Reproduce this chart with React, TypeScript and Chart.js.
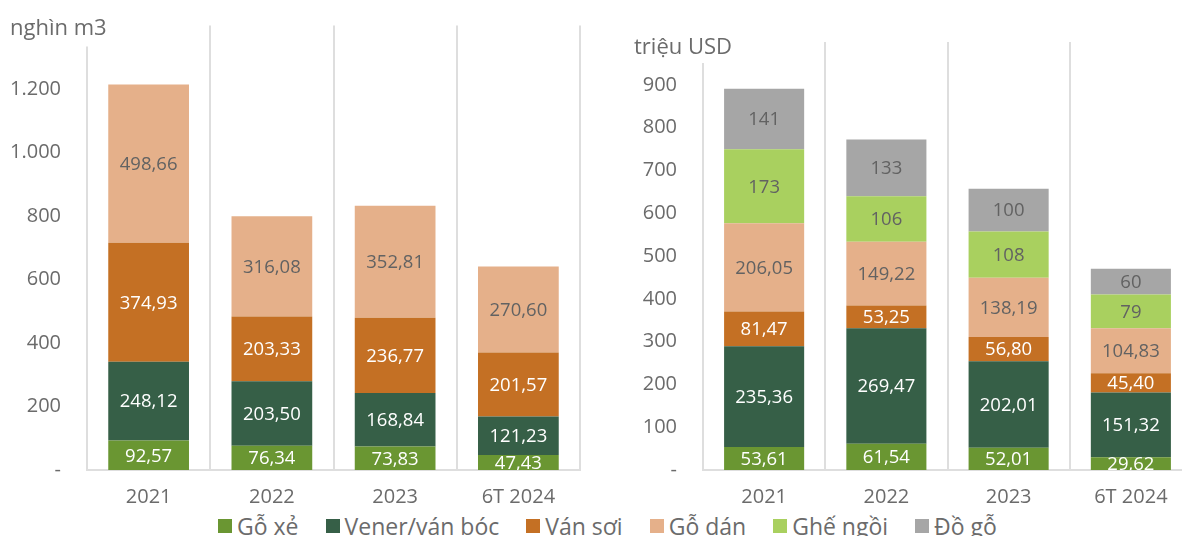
import React, { useEffect, useRef } from "react";
import { Chart, registerables } from "chart.js";

Chart.register(...registerables);

const FONT = "'Open Sans', 'Noto Sans', sans-serif";
const TEXT = "#6b6b6b";
const GRID = "#dedede";

const categories = ["2021", "2022", "2023", "6T 2024"];
const seriesNames = ["Gỗ xẻ", "Vener/ván bóc", "Ván sợi", "Gỗ dán", "Ghế ngồi", "Đồ gỗ"];
const seriesColors = ["#6a9632", "#365f47", "#c47024", "#e5b08a", "#a9d05f", "#a6a6a6"];
const labelColors = ["#ffffff", "#ffffff", "#ffffff", "#626262", "#626262", "#626262"];

// Left chart: volume (nghìn m3)
const volGoXe = [92.57, 76.34, 73.83, 47.43];
const volVener = [248.12, 203.5, 168.84, 121.23];
const volVanSoi = [374.93, 203.33, 236.77, 201.57];
const volGoDan = [498.66, 316.08, 352.81, 270.6];
const volTicksMax = 1400;
const volTickStep = 200;

// Right chart: value (triệu USD)
const valGoXe = [53.61, 61.54, 52.01, 29.62];
const valVener = [235.36, 269.47, 202.01, 151.32];
const valVanSoi = [81.47, 53.25, 56.8, 45.4];
const valGoDan = [206.05, 149.22, 138.19, 104.83];
const valGheNgoi = [173, 106, 108, 79];
const valDoGo = [141, 133, 100, 60];
const valTicksMax = 1000;
const valTickStep = 100;

const fmtValue = (v: number) =>
  Number.isInteger(v) ? String(v) : v.toFixed(2).replace(".", ",");

const fmtTick = (v: number, max: number) => {
  if (v === 0) return "-";
  if (v >= max) return "";
  return String(v).replace(/\B(?=(\d{3})+(?!\d))/g, ".");
};

const valueLabels = {
  id: "valueLabels",
  afterDatasetsDraw(chart: any) {
    const { ctx, chartArea } = chart;
    ctx.save();
    ctx.beginPath();
    ctx.rect(chartArea.left, chartArea.top, chartArea.right - chartArea.left, chartArea.bottom - chartArea.top);
    ctx.clip();
    ctx.font = `18.5px ${FONT}`;
    ctx.textAlign = "center";
    ctx.textBaseline = "middle";
    chart.data.datasets.forEach((ds: any, i: number) => {
      const meta = chart.getDatasetMeta(i);
      meta.data.forEach((bar: any, j: number) => {
        const v = ds.data[j];
        const p = bar.getProps(["x", "y", "base"], true);
        ctx.fillStyle = ds.labelColor;
        ctx.fillText(fmtValue(v), p.x, (p.y + p.base) / 2 + 1);
      });
    });
    ctx.restore();
  },
};

const axisLine = {
  id: "axisLine",
  beforeDatasetsDraw(chart: any) {
    const { ctx, chartArea } = chart;
    ctx.save();
    ctx.strokeStyle = GRID;
    ctx.lineWidth = 2;
    ctx.beginPath();
    ctx.moveTo(chartArea.left, chartArea.top + 21);
    ctx.lineTo(chartArea.left, chartArea.bottom);
    ctx.stroke();
    ctx.restore();
  },
};

function makeChart(
  canvas: HTMLCanvasElement,
  series: number[][],
  max: number,
  step: number,
  yWidth: number,
  padTop: number,
  padRight: number
) {
  return new Chart(canvas, {
    type: "bar",
    data: {
      labels: categories,
      datasets: series.map((d, i) => ({
        label: seriesNames[i],
        data: d,
        backgroundColor: seriesColors[i],
        borderWidth: 0,
        labelColor: labelColors[i],
        categoryPercentage: 1,
        barPercentage: 0.655,
      })) as any,
    },
    options: {
      responsive: false,
      animation: false,
      layout: { padding: { top: padTop, right: padRight, left: 0, bottom: 0 } },
      plugins: { legend: { display: false }, tooltip: { enabled: false }, title: { display: false } },
      scales: {
        x: {
          stacked: true,
          grid: {
            offset: true,
            drawTicks: false,
            lineWidth: 2,
            color: (c: any) => (c.index === 0 ? "rgba(0,0,0,0)" : GRID),
          },
          border: { display: true, color: GRID, width: 2 },
          ticks: { color: TEXT, font: { family: FONT, size: 20 }, padding: 15 },
          afterFit: (s: any) => {
            s.height = 40;
          },
        },
        y: {
          stacked: true,
          min: 0,
          max: max,
          grid: { display: false, drawTicks: false },
          border: { display: false },
          ticks: {
            stepSize: step,
            color: TEXT,
            font: { family: FONT, size: 20 },
            padding: 26,
            callback: (v: any) => fmtTick(Number(v), max),
          },
          afterFit: (s: any) => {
            s.width = yWidth;
          },
        },
      },
    },
    plugins: [axisLine, valueLabels],
  } as any);
}

export default function App() {
  const leftRef = useRef<HTMLCanvasElement>(null);
  const rightRef = useRef<HTMLCanvasElement>(null);

  useEffect(() => {
    const left = makeChart(
      leftRef.current!,
      [volGoXe, volVener, volVanSoi, volGoDan],
      volTicksMax,
      volTickStep,
      87,
      40.5,
      20
    );
    const right = makeChart(
      rightRef.current!,
      [valGoXe, valVener, valVanSoi, valGoDan, valGheNgoi, valDoGo],
      valTicksMax,
      valTickStep,
      103,
      42,
      0
    );
    return () => {
      left.destroy();
      right.destroy();
    };
  }, []);

  const legendItem = (name: string, color: string, last: boolean) => (
    <div key={name} style={{ display: "flex", alignItems: "center", marginRight: last ? 0 : 27 }}>
      <span style={{ display: "inline-block", width: 14, height: 14, background: color, marginRight: 5 }} />
      <span>{name}</span>
    </div>
  );

  return (
    <div
      style={{
        position: "fixed",
        left: 0,
        top: 0,
        width: 1182,
        height: 536,
        overflow: "hidden",
        background: "#fff",
        fontFamily: FONT,
        color: TEXT,
      }}
    >
      <div style={{ position: "absolute", left: 0, top: -15, width: 600, height: 525 }}>
        <canvas ref={leftRef} width={600} height={525} style={{ display: "block" }} />
      </div>
      <div style={{ position: "absolute", left: 600, top: 0, width: 592, height: 510 }}>
        <canvas ref={rightRef} width={592} height={510} style={{ display: "block" }} />
      </div>
      <div style={{ position: "absolute", left: 10, top: 13, fontSize: 22, lineHeight: "26px" }}>nghìn m3</div>
      <div style={{ position: "absolute", left: 634, top: 32, fontSize: 22, lineHeight: "26px" }}>triệu USD</div>
      <div
        style={{
          position: "absolute",
          left: 218,
          top: 513,
          display: "flex",
          alignItems: "center",
          fontSize: 23,
          lineHeight: "26px",
          whiteSpace: "nowrap",
        }}
      >
        {seriesNames.map((n, i) => legendItem(n, seriesColors[i], i === seriesNames.length - 1))}
      </div>
    </div>
  );
}
